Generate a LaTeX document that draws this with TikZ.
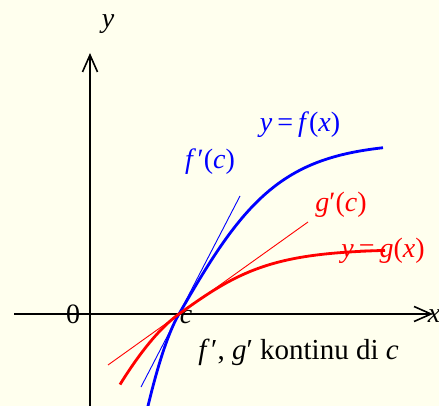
\documentclass[tikz,border=0pt]{standalone}
\usepackage{fontspec}
\setmainfont{Liberation Serif}
\usetikzlibrary{arrows.meta}
\definecolor{bg}{HTML}{FFFFEE}
\definecolor{fblue}{RGB}{0,0,255}
\definecolor{gred}{RGB}{255,0,0}
\begin{document}
\begin{tikzpicture}[x=1pt,y=-1pt, font=\fontsize{28}{32}\selectfont,
  axis/.style={line width=1.6pt, -{Straight Barb[length=17pt,width=15pt]}},
  curve/.style={line width=2.8pt, samples=120, smooth},
  tangent/.style={line width=0.9pt},
  lbl/.style={inner sep=0pt, anchor=base}]
\fill[bg] (0,0) rectangle (439,406);
\useasboundingbox (0,0) rectangle (439,406);
% axes
\coordinate (xs) at (14,314);
\coordinate (xe) at (433,314);
\coordinate (ys) at (90,410);
\coordinate (ye) at (90,53);
\draw[axis] (xs) -- (xe);
\draw[axis] (ys) -- (ye);
\coordinate (c) at (179,314);
% labels
\node[lbl] (ylab) at (108,28) {\textit{y}};
\node[lbl] (xlab) at (434,322) {\textit{x}};
\node[lbl] (zero) at (73,323) {0};
\node[lbl] (clab) at (186,323) {\textit{c}};
\node[lbl, text=fblue] (flab) at (300,132) {\textit{y}\kern5pt=\kern5pt\textit{f}(\textit{x})};
\node[lbl, text=fblue] (fplab) at (210,169) {\textit{f}\kern1.5pt′(\textit{c})};
\node[lbl, text=gred] (gplab) at (341,212) {\textit{g}′(\textit{c})};
\node[lbl, text=gred] (glab) at (383,258) {\textit{y}\kern5pt=\kern5pt\textit{g}(\textit{x})};
\node[lbl, font=\fontsize{29}{32}\selectfont] (note) at (298.5,359) {\textit{f}\kern1.5pt′, \textit{g}′ kontinu di \textit{c}};
% curves and tangents
\begin{scope}[shift={(c)}, y=1pt]
  \draw[tangent, fblue] (-38,-73) -- (61,118);
  \draw[tangent, gred] (-71,-51) -- (129,92);
  \draw[curve, fblue, domain=-34:204] plot (\x, {172*tanh(0.00999*\x) - (\x<0 ? 0.042*\x*\x : 0)});
  \draw[curve, gred, domain=-59:206] plot (\x, {65*tanh(0.011*\x) - (\x<0 ? 0.0096*\x*\x : 0)});
\end{scope}
\end{tikzpicture}
\end{document}
